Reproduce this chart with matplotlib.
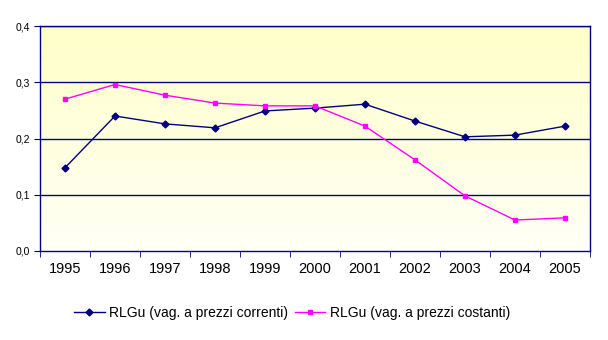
import numpy as np
import matplotlib
matplotlib.use('Agg')
import matplotlib.pyplot as plt
from matplotlib.ticker import FixedLocator, FuncFormatter
from matplotlib.colors import LinearSegmentedColormap

plt.rcParams['font.family'] = ['Liberation Sans', 'DejaVu Sans']

years = ['1995', '1996', '1997', '1998', '1999', '2000', '2001', '2002', '2003', '2004', '2005']
correnti = [0.148, 0.240, 0.226, 0.219, 0.249, 0.254, 0.261, 0.231, 0.203, 0.206, 0.222]
costanti = [0.270, 0.296, 0.277, 0.263, 0.258, 0.258, 0.222, 0.162, 0.098, 0.055, 0.059]
yticks = [0.0, 0.1, 0.2, 0.3, 0.4]

NAVY = '#000080'
MAGENTA = '#FF00FF'

fig = plt.figure(figsize=(6.08, 3.40), dpi=100)
ax = fig.add_axes([40 / 608, 89 / 340, 550 / 608, 225 / 340])

x = np.arange(len(years))
ax.set_xlim(-0.5, len(years) - 0.5)
ax.set_ylim(0, 0.4)

# background: light yellow on top fading to almost white at the bottom
grad = np.linspace(0, 1, 256).reshape(-1, 1)
cmap = LinearSegmentedColormap.from_list('bg', ['#FFFFF6', '#FFFFC8'])
ax.imshow(grad, aspect='auto', cmap=cmap, origin='lower',
          extent=[-0.5, len(years) - 0.5, 0, 0.4], zorder=0)

for yv in yticks[1:]:
    ax.axhline(yv, color=NAVY, lw=1.0, zorder=1)

ax.plot(x, correnti, color=NAVY, lw=1.0, marker='D', ms=3.5,
        label='RLGu (vag. a prezzi correnti)', zorder=3)
ax.plot(x, costanti, color=MAGENTA, lw=1.0, marker='s', ms=3.5,
        label='RLGu (vag. a prezzi costanti)', zorder=3)

for s in ax.spines.values():
    s.set_color(NAVY)
    s.set_linewidth(1.0)

ax.set_yticks(yticks)
ax.yaxis.set_major_formatter(FuncFormatter(lambda v, p: f'{v:.1f}'.replace('.', ',')))
ax.set_xticks(x)
ax.set_xticklabels(years)
ax.xaxis.set_minor_locator(FixedLocator(np.arange(-0.5, len(years), 1.0)))
ax.tick_params(axis='x', which='major', length=0, labelsize=10.5, pad=8)
ax.tick_params(axis='x', which='minor', length=4, color=NAVY, direction='out')
ax.tick_params(axis='y', length=4, color=NAVY, labelsize=7.5, pad=3)

ax.legend(loc='center', bbox_to_anchor=(252 / 550, -62 / 225), ncol=2, frameon=False,
          fontsize=10, handlelength=2.2, columnspacing=0.5, handletextpad=0.3)

fig.savefig('out.png', dpi=100)
